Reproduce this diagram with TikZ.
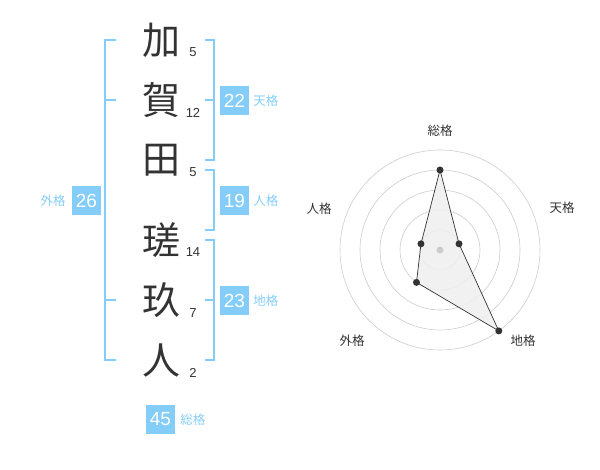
\documentclass[tikz,border=0pt]{standalone}
\usepackage{fontspec}
\setmainfont{Liberation Sans}
\newfontfamily\jpfont{Noto Sans CJK JP}
\usetikzlibrary{positioning}
\definecolor{skyb}{HTML}{85CDF9}
\definecolor{ink}{HTML}{333333}
\definecolor{webfill}{HTML}{EFEFEF}

\begin{document}
\begin{tikzpicture}[x=1pt,y=-1pt,
    kanji/.style={font=\jpfont\fontsize{38}{38}\selectfont,text=ink,inner sep=0pt},
    strk/.style={font=\fontsize{13}{13}\selectfont,text=ink,inner sep=0pt},
    kakubox/.style={fill=skyb,text=white,minimum size=29pt,inner sep=0pt,
      font=\fontsize{19}{19}\selectfont},
    kakulbl/.style={font=\jpfont\fontsize{12.5}{12.5}\selectfont,text=skyb,inner sep=0pt},
    brk/.style={draw=skyb,line width=1.6pt},
    ring/.style={draw=black!20,line width=0.6pt},
    dot/.style={circle,fill=ink,inner sep=0pt,minimum size=7pt},
    axlbl/.style={font=\jpfont\fontsize{12.5}{12.5}\selectfont,text=ink,inner sep=0pt}]
  \useasboundingbox (0,0) rectangle (600,470);

  % name characters and stroke counts
  \node[kanji] (c1) at (161,40) {加};
  \node[kanji] (c2) at (161,100) {賀};
  \node[kanji] (c3) at (161,160) {田};
  \node[kanji] (c4) at (161,240) {瑳};
  \node[kanji] (c5) at (161,300) {玖};
  \node[kanji] (c6) at (161,360) {人};
  \node[strk] (n1) at (193,52.5) {5};
  \node[strk] (n2) at (193,112.5) {12};
  \node[strk] (n3) at (193,172.5) {5};
  \node[strk] (n4) at (193,252.5) {14};
  \node[strk] (n5) at (193,313) {7};
  \node[strk] (n6) at (193,373) {2};

  % brackets
  \draw[brk] (116,40) -- (105,40) -- (105,360) -- (116,360);
  \draw[brk] (105,100) -- (116,100) (105,300) -- (116,300);
  \draw[brk] (205,40) -- (214,40) -- (214,160) -- (205,160);
  \draw[brk] (205,100) -- (214,100);
  \draw[brk] (205,170) -- (214,170) -- (214,230) -- (205,230);
  \draw[brk] (205,240) -- (214,240) -- (214,360) -- (205,360);
  \draw[brk] (205,300) -- (214,300);

  % totals
  \node[kakubox] (ten) at (234.5,100.5) {22};
  \node[kakulbl,right=4pt of ten] (tenl) {天格};
  \node[kakubox] (jin) at (234.5,201) {19};
  \node[kakulbl,right=4pt of jin] (jinl) {人格};
  \node[kakubox] (chi) at (234.5,300.5) {23};
  \node[kakulbl,right=4pt of chi] (chil) {地格};
  \node[kakubox] (gai) at (86.5,201) {26};
  \node[kakulbl,left=6pt of gai] (gail) {外格};
  \node[kakubox] (sou) at (160.5,419.5) {45};
  \node[kakulbl,right=5pt of sou] (soul) {総格};

  % radar chart
  \begin{scope}[shift={(440,250)},y=1pt]
    \foreach \r in {20,40,...,100}
      \draw[ring] (0,0) circle (\r);
    \coordinate (pS) at (90:80);
    \coordinate (pT) at (18:20);
    \coordinate (pC) at (-54:100);
    \coordinate (pG) at (234:40);
    \coordinate (pJ) at (162:20);
    \fill[webfill,fill opacity=0.85] (pS) -- (pT) -- (pC) -- (pG) -- (pJ) -- cycle;
    \fill[black!20] (0,0) circle (3.5);
    \draw[ink,line width=0.7pt] (pS) -- (pT) -- (pC) -- (pG) -- (pJ) -- cycle;
    \foreach \p in {pS,pT,pC,pG,pJ}
      \node[dot] at (\p) {};
    \node[axlbl] (aS) at (0,119) {総格};
    \node[axlbl] (aT) at (122,42) {天格};
    \node[axlbl] (aC) at (83,-91) {地格};
    \node[axlbl] (aG) at (-88,-91) {外格};
    \node[axlbl] (aJ) at (-121,41) {人格};
  \end{scope}
\end{tikzpicture}
\end{document}
